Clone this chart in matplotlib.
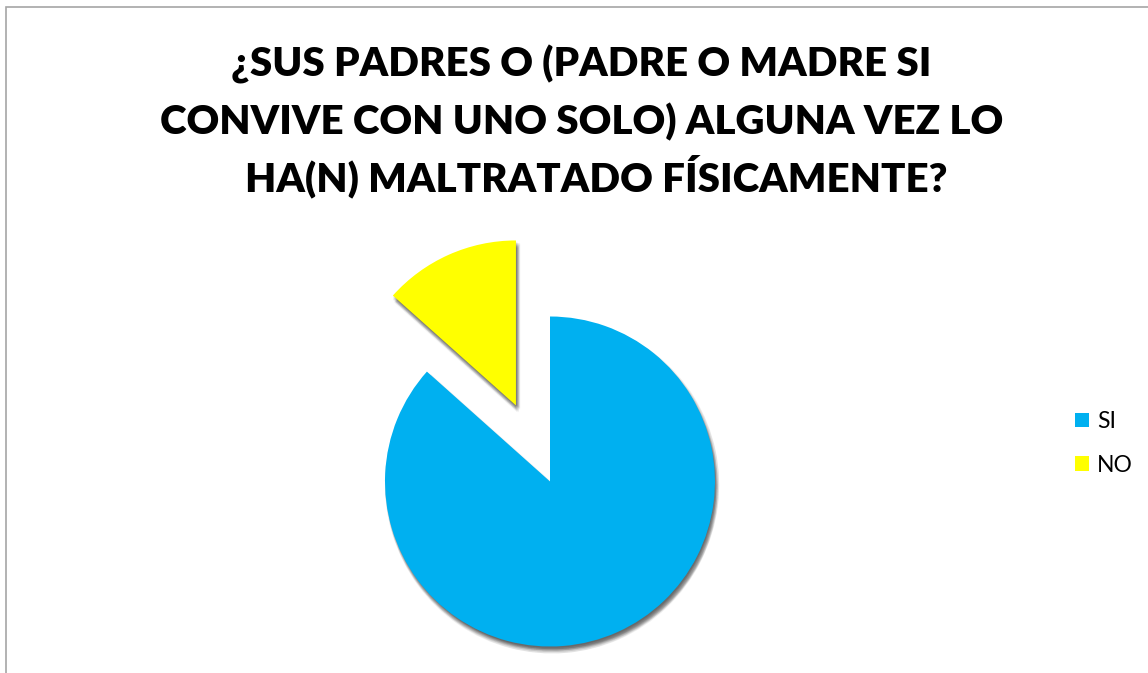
import matplotlib
matplotlib.use('Agg')
import matplotlib.pyplot as plt
import matplotlib.patheffects as pe
from matplotlib.patches import Rectangle, Patch

# chart data
labels = ['SI', 'NO']
values = [86.6, 13.4]
colors = ['#00B0F0', '#FFFF00']
title_lines = ['¿SUS PADRES O (PADRE O MADRE SI',
               'CONVIVE CON UNO SOLO) ALGUNA VEZ LO',
               'HA(N) MALTRATADO FÍSICAMENTE?']

W, H = 1148, 673
fig = plt.figure(figsize=(W / 100, H / 100), dpi=100)
ax = fig.add_axes([0, 0, 1, 1])

# outer chart border (only left/top visible in the crop)
ax.add_patch(Rectangle((6, -20), W + 40, H - 7 + 20, fill=False,
                       edgecolor='#A6A6A6', linewidth=1.2, clip_on=False))

# title, line by line (px from top: baseline positions)
title_x = [581, 582, 596]
title_y = [76, 134, 191]
for txt, x, y in zip(title_lines, title_x, title_y):
    ax.text(x, H - y, txt, ha='center', va='baseline', fontsize=29,
            fontweight='heavy', family='Lato', color='black')

# soft shadow made from several offset copies
shadow = []
for dx, dy in [(0, -1), (1, -1), (1, -2), (2, -2), (2, -3), (1, -3), (3, -3),
               (2, -4), (0, -2), (3, -2), (1, -4), (0, -3), (2, -5), (1, -5)]:
    shadow.append(pe.SimplePatchShadow(offset=(dx, dy), shadow_rgbFace='black', alpha=0.06))
shadow.append(pe.Normal())

radius = 165
wedges, _ = ax.pie(values, colors=colors, startangle=90, counterclock=False,
                   center=(550, H - 481.5), radius=radius,
                   explode=[0, 0.505 * radius], frame=True,
                   wedgeprops=dict(linewidth=0))
for w in wedges:
    w.set_path_effects(shadow)
ax.set_xlim(0, W)
ax.set_ylim(0, H)
ax.axis('off')

# plain legend squares (no shadow)
handles = [Patch(facecolor=c, edgecolor='none') for c in colors]
fig.legend(handles, labels, loc='center left',
           bbox_to_anchor=(1075 / W, (H - 443.5) / H),
           frameon=False, prop={'family': 'Lato', 'size': 16.5},
           handlelength=0.62, handleheight=0.62, handletextpad=0.35,
           labelspacing=1.0, borderpad=0, borderaxespad=0)

fig.savefig('out.png', dpi=100)
